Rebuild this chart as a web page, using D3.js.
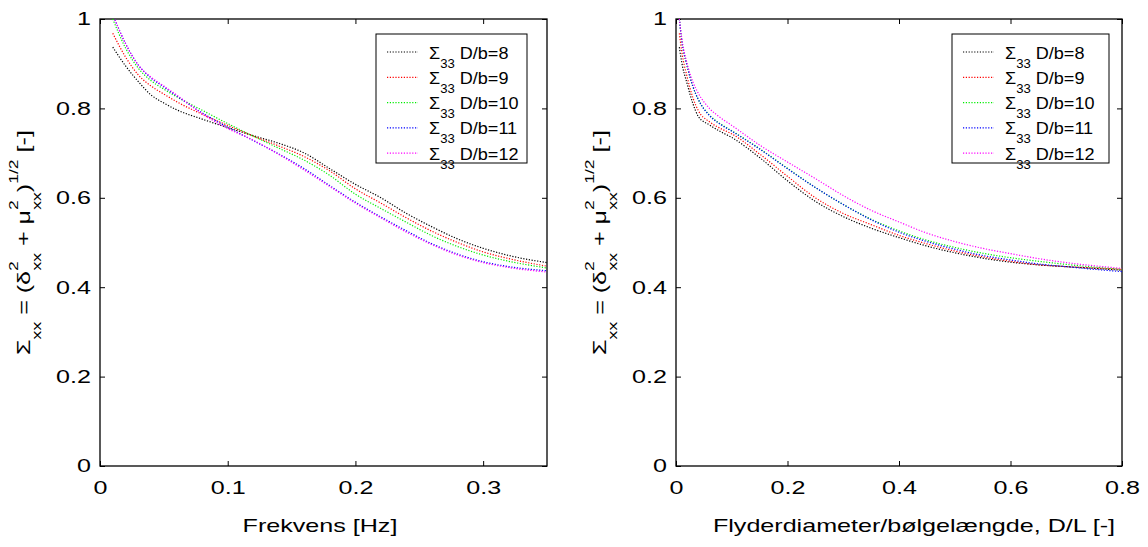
<!DOCTYPE html>
<html><head><meta charset="utf-8">
<script src="https://cdn.jsdelivr.net/npm/d3@7"></script>
<style>
body{margin:0;background:#fff;}
text{font-family:"Liberation Sans",Arial,sans-serif;fill:#000;}
</style></head>
<body><svg id="c" width="1148" height="547"></svg>
<script>
// ---- data ----
const seriesNames = ["D/b=8","D/b=9","D/b=10","D/b=11","D/b=12"];
const seriesColors = ["#000000","#ff0000","#00ee00","#0000ff","#ff00ff"];

const freq = [0.01,0.02,0.03,0.04,0.05,0.06,0.08,0.10,0.12,0.14,0.16,0.18,0.20,0.22,0.24,0.26,0.28,0.30,0.32,0.35];
const freqB8  = [0.937,0.895,0.860,0.830,0.812,0.797,0.776,0.757,0.739,0.722,0.700,0.665,0.630,0.600,0.565,0.535,0.508,0.487,0.471,0.455];
const freqB9  = [0.968,0.915,0.875,0.850,0.832,0.815,0.787,0.762,0.738,0.716,0.692,0.660,0.620,0.588,0.555,0.525,0.500,0.479,0.464,0.447];
const freqB10 = [1.000,0.935,0.890,0.862,0.843,0.826,0.796,0.766,0.738,0.711,0.684,0.650,0.608,0.576,0.545,0.515,0.491,0.472,0.458,0.443];
const freqB11 = [1.010,0.945,0.897,0.868,0.848,0.828,0.790,0.758,0.728,0.698,0.665,0.627,0.590,0.557,0.526,0.497,0.474,0.457,0.446,0.437];
const freqB12 = [1.010,0.945,0.897,0.870,0.850,0.830,0.788,0.755,0.729,0.697,0.662,0.625,0.588,0.555,0.523,0.495,0.472,0.455,0.444,0.434];

const ratio = [0.006,0.01,0.02,0.03,0.04,0.06,0.08,0.10,0.15,0.20,0.25,0.30,0.35,0.40,0.45,0.50,0.55,0.60,0.65,0.70,0.75,0.80];
const ratioB8  = [0.937,0.905,0.855,0.812,0.782,0.763,0.748,0.735,0.690,0.638,0.592,0.558,0.532,0.511,0.492,0.477,0.465,0.456,0.450,0.446,0.442,0.438];
const ratioB9  = [0.968,0.930,0.870,0.825,0.795,0.770,0.755,0.743,0.698,0.648,0.600,0.565,0.540,0.516,0.497,0.481,0.468,0.458,0.450,0.446,0.443,0.440];
const ratioB10 = [1.000,0.955,0.895,0.850,0.820,0.785,0.765,0.750,0.710,0.666,0.623,0.585,0.552,0.526,0.505,0.489,0.476,0.466,0.458,0.451,0.445,0.440];
const ratioB11 = [1.000,0.955,0.895,0.850,0.820,0.784,0.764,0.749,0.709,0.665,0.623,0.585,0.551,0.523,0.502,0.485,0.471,0.461,0.452,0.446,0.440,0.435];
const ratioB12 = [1.000,0.960,0.900,0.860,0.834,0.800,0.779,0.762,0.718,0.680,0.643,0.605,0.572,0.546,0.521,0.502,0.487,0.475,0.464,0.455,0.448,0.442];

const yTicks = [0,0.2,0.4,0.6,0.8,1];
const xTicksLeft = [0,0.1,0.2,0.3];
const xTicksRight = [0,0.2,0.4,0.6,0.8];
const xTitleLeft = "Frekvens [Hz]";
const xTitleRight = "Flyderdiameter/bølgelængde, D/L [-]";

// ---- drawing ----
const svg = d3.select("#c");
const plotTop = 19, plotBottom = 466;
const axFont = 18.6, axStretch = 1.35;
const legFont = 17.2, legStretch = 1.05;

function panel(id, left, right, xDomain, xTicks, xs, ys, xTitle, xTitleCenter, legendBox){
  const x = d3.scaleLinear().domain(xDomain).range([left,right]);
  const y = d3.scaleLinear().domain([0,1]).range([plotBottom,plotTop]);
  const g = svg.append("g");
  g.append("clipPath").attr("id","clip"+id).append("rect")
    .attr("x",left).attr("y",plotTop).attr("width",right-left).attr("height",plotBottom-plotTop);

  const fmt = d => d===0 ? "0" : d3.format("")(d);
  const axB = g.append("g").attr("transform",`translate(0,${plotBottom})`)
    .call(d3.axisBottom(x).tickValues(xTicks).tickSize(-5).tickPadding(15).tickFormat(fmt));
  const axT = g.append("g").attr("transform",`translate(0,${plotTop})`)
    .call(d3.axisTop(x).tickValues(xTicks).tickSize(-5).tickFormat(""));
  const axL = g.append("g").attr("transform",`translate(${left},0)`)
    .call(d3.axisLeft(y).tickValues(yTicks).tickSize(-5).tickPadding(9).tickFormat(fmt));
  const axR = g.append("g").attr("transform",`translate(${right},0)`)
    .call(d3.axisRight(y).tickValues(yTicks).tickSize(-5).tickFormat(""));
  [axB,axT,axL,axR].forEach(a=>{
    a.select(".domain").remove();
    a.selectAll("line").attr("stroke","#000");
    a.selectAll("text").style("font-size",axFont+"px").style("font-family","'Liberation Sans',Arial,sans-serif").attr("fill","#000");
  });
  axB.selectAll("text").attr("transform",`scale(${axStretch},1)`);
  axL.selectAll("text").attr("x",-9/axStretch).attr("transform",`scale(${axStretch},1)`);

  g.append("rect").attr("x",left).attr("y",plotTop).attr("width",right-left).attr("height",plotBottom-plotTop)
    .attr("fill","none").attr("stroke","#000").attr("stroke-width",1.3);

  const line = d3.line().x(d=>x(d[0])).y(d=>y(d[1])).curve(d3.curveMonotoneX);
  ys.forEach((s,i)=>{
    g.append("path").attr("clip-path",`url(#clip${id})`)
      .datum(xs.map((v,k)=>[v,s[k]]))
      .attr("d",line).attr("fill","none").attr("stroke",seriesColors[i])
      .attr("stroke-width",1.2).attr("stroke-dasharray","1.2,1.6");
  });

  // x title
  g.append("text").attr("transform",`translate(${xTitleCenter},532) scale(${axStretch},1)`)
    .attr("text-anchor","middle").style("font-size",axFont+"px").text(xTitle);

  // y title
  const sub = 13;
  const yt = g.append("text")
    .attr("transform",`translate(${left-70},${(plotTop+plotBottom)/2}) rotate(-90) scale(${axStretch},1)`)
    .attr("text-anchor","middle").style("font-size",axFont+"px");
  yt.append("tspan").text("Σ");
  yt.append("tspan").attr("dy",11).style("font-size",sub+"px").text("xx");
  yt.append("tspan").attr("dy",-11).text(" = (δ");
  yt.append("tspan").attr("dy",-12).style("font-size",sub+"px").text("2");
  yt.append("tspan").attr("dy",23).attr("dx",-7).style("font-size",sub+"px").text("xx");
  yt.append("tspan").attr("dy",-11).text(" + μ");
  yt.append("tspan").attr("dy",-12).style("font-size",sub+"px").text("2");
  yt.append("tspan").attr("dy",23).attr("dx",-7).style("font-size",sub+"px").text("xx");
  yt.append("tspan").attr("dy",-11).text(")");
  yt.append("tspan").attr("dy",-12).style("font-size",sub+"px").text("1/2");
  yt.append("tspan").attr("dy",12).text("  [-]");

  // legend
  const [lx,ly,lw,lh] = legendBox;
  const lg = g.append("g");
  lg.append("rect").attr("x",lx).attr("y",ly).attr("width",lw).attr("height",lh)
    .attr("fill","#fff").attr("stroke","#000").attr("stroke-width",1);
  seriesNames.forEach((n,i)=>{
    const yy = ly + 18 + i*25.3;
    lg.append("line").attr("x1",lx+11).attr("x2",lx+42).attr("y1",yy).attr("y2",yy)
      .attr("stroke",seriesColors[i]).attr("stroke-width",1.2).attr("stroke-dasharray","1.2,1.6");
    const t = lg.append("text").attr("transform",`translate(${lx+53},${yy+6.5}) scale(${legStretch},1)`)
      .style("font-size",legFont+"px");
    t.append("tspan").text("Σ");
    t.append("tspan").attr("dy",9).style("font-size","12.5px").text("33");
    t.append("tspan").attr("dy",-9).text(" "+n);
  });
}

panel("L",100,547,[0,0.35],xTicksLeft,freq,[freqB8,freqB9,freqB10,freqB11,freqB12],xTitleLeft,320,[376,34,151,129]);
panel("R",676,1122,[0,0.8],xTicksRight,ratio,[ratioB8,ratioB9,ratioB10,ratioB11,ratioB12],xTitleRight,914,[952,34,157,129]);
</script></body></html>
